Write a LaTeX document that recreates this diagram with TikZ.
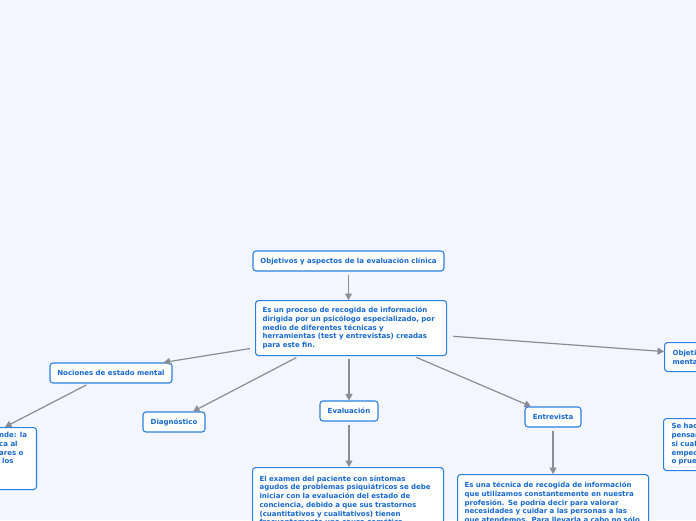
\documentclass[tikz,border=0pt]{standalone}
\usepackage{fontspec}
\setmainfont{DejaVu Sans}
\usetikzlibrary{arrows.meta}
\definecolor{bgc}{RGB}{243,246,254}
\definecolor{bordc}{RGB}{42,128,226}
\definecolor{txtc}{RGB}{22,104,204}
\definecolor{linec}{RGB}{136,141,152}
\begin{document}
\begin{tikzpicture}[x=1pt,y=-1pt,
  box/.style={draw=bordc, line width=1.1pt, fill=white, rounded corners=3pt, text=txtc,
    font=\fontsize{7}{8.75}\selectfont\bfseries, inner ysep=0pt, inner xsep=6pt, minimum height=20pt},
  para/.style={box, align=left, anchor=north west, inner ysep=6.5pt, inner xsep=7pt, minimum height=0pt},
  conn/.style={draw=linec, line width=1.2pt, shorten <=3pt, -{Triangle[length=6.5pt,width=7pt]}}]
\useasboundingbox (0,0) rectangle (696,520);
\clip (0,0) rectangle (696,520);
\fill[bgc] (0,0) rectangle (696,520);

\node[box, minimum width=191pt] (obj) at (348.5,261) {Objetivos y aspectos de la evaluación clínica};
\node[para, text width=177pt, minimum height=54pt] (proc) at (255,300) {Es un proceso de recogida de información\\dirigida por un psicólogo especializado, por\\medio de diferentes técnicas y\\herramientas (test y entrevistas) creadas\\para este fin.};
\node[box, minimum width=122pt] (noc) at (111,373) {Nociones de estado mental};
\node[box, minimum width=62pt] (diag) at (174,422) {Diagnóstico};
\node[box, minimum width=58pt] (eval) at (349,411) {Evaluación};
\node[box, minimum width=56pt] (entr) at (553,417) {Entrevista};

\node[box, anchor=north east, minimum width=100pt, minimum height=62pt] (lbox) at (37,427) {};
\node[text=txtc, font=\fontsize{7}{8.75}\selectfont\bfseries, align=left, anchor=north west, inner sep=0pt] (ltxt) at (-1,432) {nde: la\\ca al\\ares o\\\hspace{3pt}los};

\node[para, text width=177pt, inner ysep=8pt] (evtxt) at (252,467) {El examen del paciente con síntomas\\agudos de problemas psiquiátricos se debe\\iniciar con la evaluación del estado de\\conciencia, debido a que sus trastornos\\(cuantitativos y cualitativos) tienen\\frecuentemente una causa somática};
\node[para, text width=177pt, inner ysep=7.5pt] (entxt) at (457,474) {Es una técnica de recogida de información\\que utilizamos constantemente en nuestra\\profesión. Se podría decir para valorar\\necesidades y cuidar a las personas a las\\que atendemos. Para llevarla a cabo no sólo};

\node[para, inner xsep=8pt, minimum height=29pt, text width=100pt] (objm) at (664,342) {Objetivos del examen\\mental};
\node[para, inner xsep=8pt, minimum height=52pt, text width=100pt, inner ysep=4pt] (shace) at (663,418) {Se hace una\\pensar en\\si cualquier\\empeoramiento\\o prueba};

\draw[conn] (obj.south) -- (obj.south |- proc.north);
\draw[conn] ([yshift=-20pt,xshift=-2pt]proc.west) -- ([xshift=-9pt]noc.north east);
\draw[conn] ([xshift=-22pt]noc.south) -- ([xshift=-32pt]lbox.north east);
\draw[conn] ([xshift=-52pt]proc.south) -- ([xshift=19pt]diag.north);
\draw[conn] (proc.south -| eval.north) -- (eval.north);
\draw[conn] ([xshift=62.5pt]proc.south) -- ([xshift=-22pt]entr.north);
\draw[conn] ([yshift=-8pt,xshift=3pt]proc.east) -- ([yshift=5.5pt]objm.west);
\draw[conn] (eval.south) -- (evtxt.north -| eval.south);
\draw[conn] (entr.south) -- (entxt.north -| entr.south);
\end{tikzpicture}
\end{document}
